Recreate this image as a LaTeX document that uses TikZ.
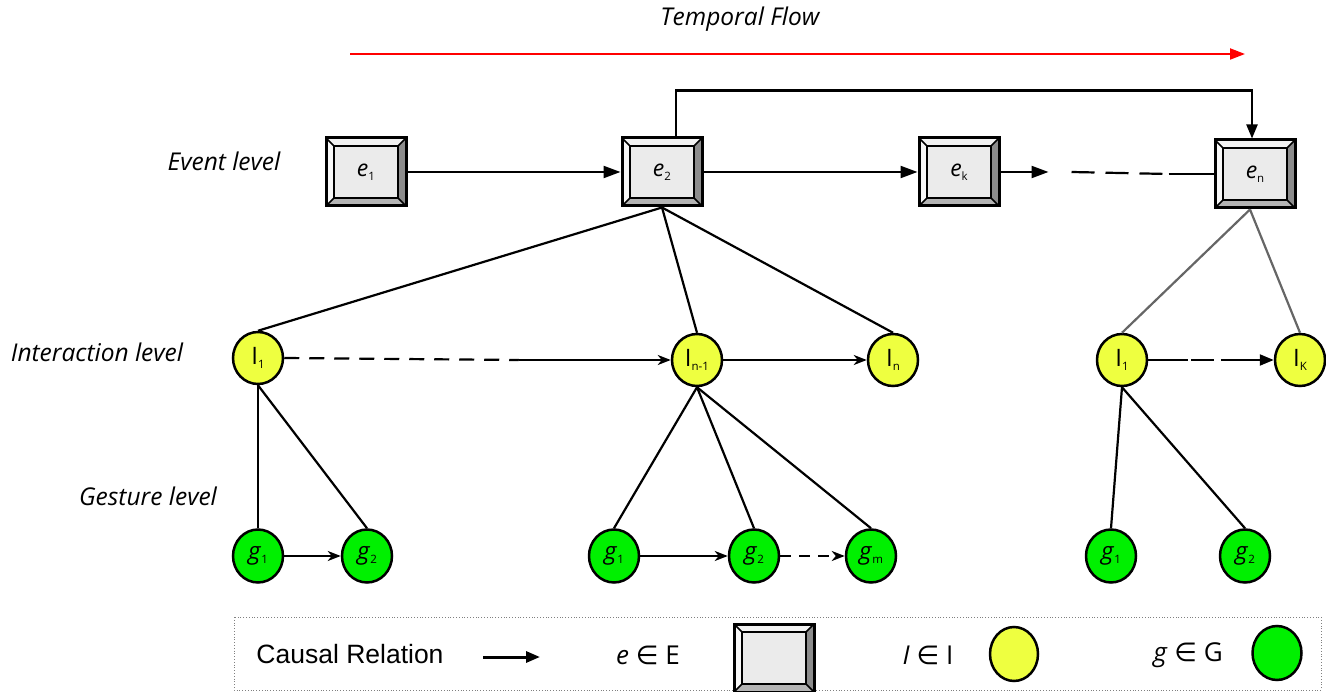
\documentclass[tikz,border=0pt]{standalone}
\usepackage{fontspec}
\setmainfont{Open Sans}
\newfontfamily\arialf{Liberation Sans}
\newfontfamily\djv{DejaVu Sans}
\usetikzlibrary{arrows.meta,shapes.geometric}
\definecolor{ylw}{RGB}{238,255,64}
\definecolor{grn}{RGB}{0,240,0}
\definecolor{evin}{RGB}{235,235,235}
\definecolor{evtop}{RGB}{242,242,242}
\definecolor{evleft}{RGB}{248,248,248}
\definecolor{evright}{RGB}{140,140,140}
\definecolor{evbot}{RGB}{180,180,180}
\newcommand\sbx[1]{\raisebox{-4pt}{\fontsize{11.5}{13}\selectfont #1}}
\newcommand\ppb{path picture bounding box}
\tikzset{
  evbox/.style={rectangle, minimum width=80pt, minimum height=68pt, inner sep=0pt,
    draw=black, line width=3pt, fill=evin, font=\fontsize{23}{27}\selectfont,
    path picture={
      \fill[evtop] (\ppb.north west) -- (\ppb.north east) -- ([shift={(-8pt,-8pt)}]\ppb.north east) -- ([shift={(8pt,-8pt)}]\ppb.north west) -- cycle;
      \fill[evright] (\ppb.north east) -- (\ppb.south east) -- ([shift={(-8pt,8pt)}]\ppb.south east) -- ([shift={(-8pt,-8pt)}]\ppb.north east) -- cycle;
      \fill[evbot] (\ppb.south east) -- (\ppb.south west) -- ([shift={(8pt,8pt)}]\ppb.south west) -- ([shift={(-8pt,8pt)}]\ppb.south east) -- cycle;
      \fill[evleft] (\ppb.south west) -- (\ppb.north west) -- ([shift={(8pt,-8pt)}]\ppb.north west) -- ([shift={(8pt,8pt)}]\ppb.south west) -- cycle;
      \draw[line width=2pt] ([shift={(8pt,-8pt)}]\ppb.north west) rectangle ([shift={(-8pt,8pt)}]\ppb.south east);
      \draw[line width=1.5pt] (\ppb.north west) -- ([shift={(8pt,-8pt)}]\ppb.north west)
        (\ppb.north east) -- ([shift={(-8pt,-8pt)}]\ppb.north east)
        (\ppb.south east) -- ([shift={(-8pt,8pt)}]\ppb.south east)
        (\ppb.south west) -- ([shift={(8pt,8pt)}]\ppb.south west);
    }},
  inode/.style={ellipse, draw=black, line width=2.5pt, fill=ylw, minimum width=50pt, minimum height=52pt, inner sep=0pt, font=\fontsize{24}{28}\selectfont},
  gnode/.style={inode, fill=grn, minimum height=53pt},
  lvl/.style={font=\fontsize{24.5}{29}\selectfont\itshape, inner sep=0pt},
  conn/.style={line width=2.2pt, draw=black},
  earrow/.style={conn, -{Triangle[length=17pt,width=12pt]}},
  sarrow/.style={conn, -{Stealth[length=13pt,width=10pt,inset=4pt]}},
  tarrow/.style={conn, -{Triangle[length=14pt,width=11pt]}},
  gline/.style={line width=2.2pt, draw=black!60},
  legtxt/.style={font=\fontsize{26}{30}\selectfont, inner sep=0pt}
}
\begin{document}
\begin{tikzpicture}[x=1pt,y=-1pt]
\useasboundingbox (0,0) rectangle (1326,692);
% temporal flow
\node[lvl] (tf) at (740,19) {Temporal Flow};
\coordinate (tfa) at (350,54);
\coordinate (tfb) at (1245,54);
\draw[red, line width=2pt, -{Triangle[length=15pt,width=11pt]}] (tfa) -- (tfb);
% level labels
\node[lvl] (lev) at (224,161) {Event level};
\node[lvl] (lint) at (97,352) {Interaction level};
\node[lvl] (lges) at (148,496) {Gesture level};
% events
\node[evbox] (e1) at (366,172) {\textit{e}\sbx{1}};
\node[evbox] (e2) at (662,172) {\textit{e}\sbx{2}};
\node[evbox] (ek) at (959,172) {\textit{e}\sbx{k}};
\node[evbox] (en) at (1255,174) {\textit{e}\sbx{n}};
\draw[earrow] (e1) -- (e2);
\draw[earrow] (e2) -- (ek);
\draw[earrow] (ek.east) -- ++(48,0) coordinate (ka);
\draw[conn, dash pattern=on 23pt off 11pt] ([xshift=23pt]ka) -- ([xshift=-45pt]en.west);
\draw[conn] ([xshift=-45pt]en.west) -- (en.west);
\draw[conn, -{Triangle[length=14pt,width=11pt]}] ([xshift=14pt]e2.north) -- ++(0,-46) -| ([xshift=-3pt]en.north);
% interaction
\node[inode] (ia1) at (258,358) {I\sbx{1}};
\node[inode] (ian1) at (697,360) {I\sbx{n-1}};
\node[inode] (ian) at (893,360) {I\sbx{n}};
\node[inode] (ib1) at (1122,360) {I\sbx{1}};
\node[inode] (ibk) at (1300,360) {I\sbx{K}};
\draw[conn] (e2.south) -- (ia1.north);
\draw[conn] (e2.south) -- (ian1.north);
\draw[conn] (e2.south) -- (ian.north);
\draw[gline] ([xshift=-5pt]en.south) -- (ib1.north);
\draw[gline] ([xshift=-5pt]en.south) -- (ibk.north);
\draw[conn, dash pattern=on 15pt off 10pt] (ia1.east) -- ([xshift=-152pt]ian1.west) coordinate (ida);
\draw[sarrow] (ida) -- (ian1.west);
\draw[sarrow] (ian1) -- (ian);
\draw[conn] (ib1.east) -- ([xshift=40pt]ib1.east) coordinate (idb);
\draw[conn, dash pattern=on 23pt off 9pt] ([xshift=3pt]idb) -- ([xshift=-53pt]ibk.west) coordinate (idc);
\draw[tarrow] (idc) -- (ibk.west);
% gestures
\node[gnode] (ga1) at (258,556) {\textit{g}\sbx{1}};
\node[gnode] (ga2) at (367,556) {\textit{g}\sbx{2}};
\node[gnode] (gb1) at (614,556) {\textit{g}\sbx{1}};
\node[gnode] (gb2) at (754,556) {\textit{g}\sbx{2}};
\node[gnode] (gbm) at (871,556) {\textit{g}\sbx{m}};
\node[gnode] (gc1) at (1111,556) {\textit{g}\sbx{1}};
\node[gnode] (gc2) at (1245,556) {\textit{g}\sbx{2}};
\draw[conn] (ia1.south) -- (ga1.north);
\draw[conn] (ia1.south) -- (ga2.north);
\draw[conn] (ian1.south) -- (gb1.north);
\draw[conn] (ian1.south) -- (gb2.north);
\draw[conn] (ian1.south) -- (gbm.north);
\draw[conn] (ib1.south) -- (gc1.north);
\draw[conn] (ib1.south) -- (gc2.north);
\draw[sarrow] (ga1) -- (ga2);
\draw[sarrow] (gb1) -- (gb2);
\draw[sarrow, dash pattern=on 11pt off 8pt] (gb2) -- (gbm);
% legend
\draw[black!50, dotted, line width=0.8pt] (234,617) rectangle (1321,690);
\node[font=\arialf\fontsize{26.5}{30}\selectfont, inner sep=0pt] (lcr) at (350,654) {Causal Relation};
\coordinate (lca) at (483,657);
\coordinate (lcb) at (540,657);
\draw[tarrow, line width=3pt] (lca) -- (lcb);
\node[legtxt] (lte) at (648,655) {\textit{e} {\djv ∈} E};
\node[evbox] (lbe) at (774,658) {};
\node[legtxt] (lti) at (928,655) {\textit{I} {\djv ∈} I};
\node[inode, minimum width=48pt, minimum height=54pt] (lbi) at (1014,654) {};
\node[legtxt] (ltg) at (1188,655) {\textit{g} {\djv ∈} G};
\node[gnode, minimum width=49pt, minimum height=54pt] (lbg) at (1277,653) {};
\end{tikzpicture}
\end{document}
